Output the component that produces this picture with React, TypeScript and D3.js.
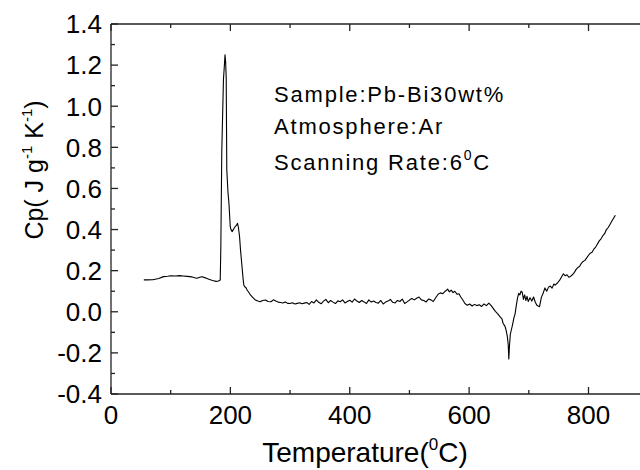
import React from "react";
import * as d3 from "d3";

const temperature: number[] = [
  55, 60, 70, 80, 88, 95, 100, 108, 115, 121, 128, 135, 140, 144, 150, 153, 158, 164, 170, 176, 180, 183,
  184, 185.6, 188.4, 190, 191, 192, 193, 194, 196, 197.6, 199.8, 201, 203, 206, 208, 210, 212, 213.5, 215.4,
  217, 219, 221, 222.5, 224, 226, 228, 231, 233.6, 237, 242, 246, 250, 254, 259, 263, 268, 272, 276, 280,
  284, 288, 292, 296, 300, 304, 308, 312, 316, 320, 324, 328, 332, 336, 340, 344, 348, 352, 356, 360, 364,
  368, 372, 376, 380, 384, 388, 392, 396, 400, 404, 408, 412, 416, 420, 424, 428, 432, 436, 440, 444, 448,
  452, 456, 460, 464, 468, 472, 476, 480, 484, 488, 492, 496, 500, 504, 508, 512, 516, 520, 524, 528, 532,
  536, 540, 544, 548, 552, 556, 560, 564, 567, 570, 573, 576, 580, 583, 586, 590, 593, 597, 601, 605, 609,
  613, 617, 621, 625, 629, 633, 637, 640, 644, 648, 652, 655, 657, 660, 662, 664, 665.5, 666.5, 667.5, 669,
  671, 673, 675, 677, 679, 681, 683, 685, 687, 689, 691, 693, 695, 697, 699, 702, 705, 708, 711, 714, 718,
  721, 724, 727, 730, 733, 736, 739, 742, 744, 748, 752, 755, 758, 761, 764, 767, 770, 773, 776, 779, 782,
  785, 788, 791, 794, 797, 800, 803, 806, 809, 812, 815, 818, 821, 824, 827, 830, 833, 836, 839, 842, 845,
];

const cp: number[] = [
  0.155, 0.155, 0.156, 0.162, 0.171, 0.173, 0.175, 0.174, 0.176, 0.174, 0.172, 0.17, 0.166, 0.163, 0.169,
  0.17, 0.165, 0.158, 0.152, 0.148, 0.15, 0.155,
  0.31, 0.78, 1.13, 1.2, 1.25, 1.22, 1.14, 0.69, 0.58, 0.528, 0.414, 0.4, 0.39, 0.405, 0.414, 0.42, 0.43,
  0.41, 0.365, 0.3, 0.236, 0.17, 0.13, 0.122, 0.118, 0.106, 0.094, 0.082, 0.071, 0.057, 0.052, 0.049, 0.055,
  0.057, 0.05, 0.049, 0.058, 0.052, 0.047, 0.045, 0.043, 0.048, 0.041, 0.04, 0.044, 0.038, 0.041, 0.044,
  0.039, 0.042, 0.045, 0.036, 0.05, 0.043, 0.058, 0.046, 0.039, 0.052, 0.06, 0.044, 0.055, 0.047, 0.04,
  0.053, 0.049, 0.058, 0.043, 0.05, 0.056, 0.047, 0.062, 0.052, 0.045, 0.055, 0.048, 0.04, 0.058, 0.047,
  0.052, 0.045, 0.042, 0.055, 0.038, 0.047, 0.052, 0.06, 0.046, 0.043, 0.055, 0.05, 0.062, 0.04, 0.048,
  0.057, 0.065, 0.058, 0.066, 0.072, 0.058, 0.055, 0.048, 0.062, 0.058, 0.05, 0.068, 0.085, 0.092, 0.088,
  0.1, 0.11, 0.097, 0.105, 0.093, 0.1, 0.085, 0.088, 0.072, 0.055, 0.04, 0.032, 0.038, 0.028, 0.036, 0.03,
  0.034, 0.026, 0.038, 0.03, 0.042, 0.03, 0.018, 0.002, -0.01, -0.025, -0.035, -0.057, -0.07, -0.09, -0.12,
  -0.16, -0.23, -0.17, -0.11, -0.085, -0.06, -0.03, -0.01, 0.03, 0.065, 0.09, 0.082, 0.1, 0.095, 0.06,
  0.082, 0.055, 0.075, 0.05, 0.068, 0.052, 0.072, 0.045, 0.03, 0.025, 0.07, 0.09, 0.116, 0.1, 0.12, 0.125,
  0.115, 0.135, 0.13, 0.14, 0.155, 0.17, 0.185, 0.175, 0.18, 0.168, 0.172, 0.18, 0.19, 0.205, 0.215, 0.22,
  0.236, 0.245, 0.25, 0.262, 0.275, 0.285, 0.29, 0.305, 0.315, 0.33, 0.345, 0.355, 0.37, 0.38, 0.4, 0.41,
  0.425, 0.44, 0.455, 0.47,
];

const xTicks: number[] = [0, 200, 400, 600, 800];
const xMinor: number[] = [100, 300, 500, 700, 900];
const yTicks: number[] = [-0.4, -0.2, 0.0, 0.2, 0.4, 0.6, 0.8, 1.0, 1.2, 1.4];
const yMinor: number[] = [-0.3, -0.1, 0.1, 0.3, 0.5, 0.7, 0.9, 1.1, 1.3];
const annotations: string[] = ["Sample:Pb-Bi30wt%", "Atmosphere:Ar", "Scanning Rate:6"];

const W = 640;
const H = 470;
const left = 111;
const top = 24;
const bottom = 394;
const x800 = 588.5;

export default function App() {
  const x = d3.scaleLinear().domain([0, 800]).range([left, x800]);
  const y = d3.scaleLinear().domain([-0.4, 1.4]).range([bottom, top]);
  const right = x(900);
  const pts = temperature.map((t, i) => [t, cp[i]] as [number, number]);
  const line = d3
    .line<[number, number]>()
    .x((d) => x(d[0]))
    .y((d) => y(d[1]));
  const font = "'Liberation Sans', Arial, sans-serif";
  const ax = "#222";
  return (
    <svg
      width={W}
      height={H}
      style={{ position: "absolute", left: 0, top: 0, background: "#fff" }}
      fontFamily={font}
    >
      <rect x={0} y={0} width={W} height={H} fill="#fff" />
      <g stroke={ax} strokeWidth={1.3} fill="none">
        <line x1={left} x2={right} y1={bottom} y2={bottom} />
        <line x1={left} x2={right} y1={top} y2={top} />
        <line x1={left} x2={left} y1={top} y2={bottom} />
        <line x1={right} x2={right} y1={top} y2={bottom} />
        {xTicks.map((t) => (
          <g key={"xt" + t}>
            <line x1={x(t)} x2={x(t)} y1={bottom} y2={bottom - 7} />
            <line x1={x(t)} x2={x(t)} y1={top} y2={top + 7} />
          </g>
        ))}
        {xMinor.map((t) => (
          <g key={"xm" + t}>
            <line x1={x(t)} x2={x(t)} y1={bottom} y2={bottom - 4} />
            <line x1={x(t)} x2={x(t)} y1={top} y2={top + 4} />
          </g>
        ))}
        {yTicks.map((t) => (
          <g key={"yt" + t}>
            <line x1={left} x2={left + 7} y1={y(t)} y2={y(t)} />
            <line x1={right} x2={right - 7} y1={y(t)} y2={y(t)} />
          </g>
        ))}
        {yMinor.map((t) => (
          <g key={"ym" + t}>
            <line x1={left} x2={left + 4} y1={y(t)} y2={y(t)} />
            <line x1={right} x2={right - 4} y1={y(t)} y2={y(t)} />
          </g>
        ))}
      </g>
      <g fontSize={26} fill="#000">
        {xTicks.map((t) => (
          <text key={"xl" + t} x={x(t)} y={bottom + 30} textAnchor="middle">
            {String(t)}
          </text>
        ))}
        {yTicks.map((t) => (
          <text key={"yl" + t} x={left - 9} y={y(t)} dy="0.36em" textAnchor="end">
            {t.toFixed(1)}
          </text>
        ))}
      </g>
      <text x={365} y={462} fontSize={28} textAnchor="middle" fill="#000">
        Temperature(
        <tspan fontSize={17} dy={-12}>0</tspan>
        <tspan dy={12}>C)</tspan>
      </text>
      <text
        transform={`translate(43,170) rotate(-90)`}
        fontSize={25}
        textAnchor="middle"
        fill="#000"
      >
        Cp( J g
        <tspan fontSize={15} dy={-11}>-1</tspan>
        <tspan dy={11}> K</tspan>
        <tspan fontSize={15} dy={-11}>-1</tspan>
        <tspan dy={11}>)</tspan>
      </text>
      <g fontSize={22} fill="#000" letterSpacing={1.8}>
        <text x={274} y={102}>{annotations[0]}</text>
        <text x={274} y={134}>{annotations[1]}</text>
        <text x={274} y={170}>
          {annotations[2]}
          <tspan fontSize={14} dy={-10}>0</tspan>
          <tspan dy={10}>C</tspan>
        </text>
      </g>
      <path d={line(pts) || ""} fill="none" stroke="#000" strokeWidth={1.1} strokeLinejoin="round" />
    </svg>
  );
}
